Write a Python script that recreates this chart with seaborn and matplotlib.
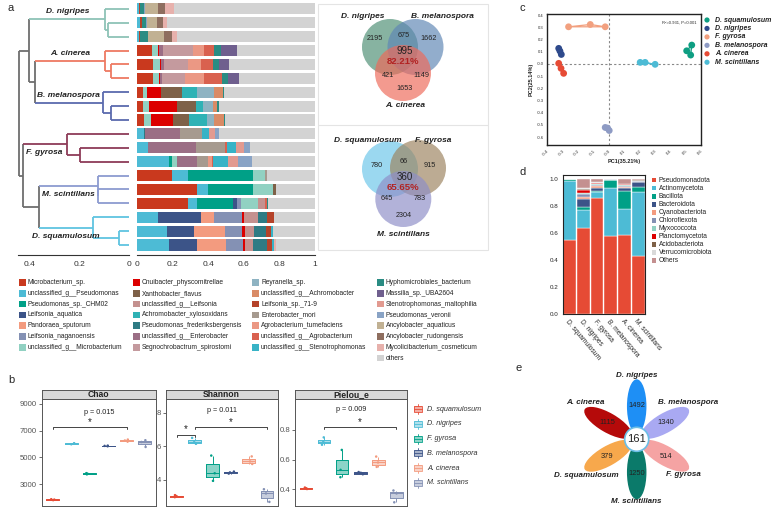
import numpy as np
import pandas as pd
import seaborn as sns
import matplotlib.pyplot as plt
from matplotlib.patches import Circle, Ellipse, Rectangle

# ---------------- panel a: species composition ----------------
taxa_a = ['Microbacterium_sp.', 'unclassified_g__Pseudomonas', 'Pseudomonas_sp._CHM02',
          'Leifsonia_aquatica', 'Pandoraea_sputorum', 'Leifsonia_naganoensis',
          'unclassified_g__Microbacterium', 'Cnuibacter_physcomitrellae', 'Xanthobacter_flavus',
          'unclassified_g__Leifsonia', 'Achromobacter_xylosoxidans', 'Pseudomonas_frederiksbergensis',
          'unclassified_g__Enterobacter', 'Segnochrobactrum_spirostomi', 'Reyranella_sp.',
          'unclassified_g__Achromobacter', 'Leifsonia_sp._71-9', 'Enterobacter_mori',
          'Agrobacterium_tumefaciens', 'unclassified_g__Agrobacterium', 'unclassified_g__Stenotrophomonas',
          'Hyphomicrobiales_bacterium', 'Massilia_sp._UBA2604', 'Stenotrophomonas_maltophilia',
          'Pseudomonas_veronii', 'Ancylobacter_aquaticus', 'Ancylobacter_rudongensis',
          'Mycolicibacterium_cosmeticum', 'others']
taxa_key = ['Mic', 'uPse', 'Pch', 'Laq', 'Pan', 'Lna', 'uMic', 'Cnu', 'Xan', 'uLei', 'Axy', 'Pfr',
            'uEnt', 'Seg', 'Rey', 'uAch', 'L71', 'Emo', 'Atu', 'uAgr', 'uSte', 'Hyp', 'Mas',
            'Sma', 'Pve', 'Aaq', 'Aru', 'Myc', 'oth']
taxa_colors = ['#C9391E', '#4DBBD5', '#00A087', '#3C5488', '#F39B7F', '#8491B4', '#91D1C2',
               '#DC0000', '#7E6148', '#C4918F', '#2FB2B5', '#2E7B84', '#9B6E85', '#C49A9E',
               '#8EB3C2', '#D98B66', '#B5432A', '#A69A8F', '#EB9884', '#D9614F', '#38B3C6',
               '#2A8C83', '#6F5F8E', '#E29A90', '#89A3C5', '#C1B193', '#8E6E5F', '#E7B1AC', '#D3D3D3']
legend_cols_a = [7, 7, 7, 8]

sample_groups = ['D. nigripes'] * 3 + ['A. cinerea'] * 3 + ['B. melanospora'] * 3 + \
                ['F. gyrosa'] * 3 + ['M. scintillans'] * 3 + ['D. squamulosum'] * 3

dn1 = {'uPse': .010, 'L71': .005, 'Hyp': .025, 'Pve': .005, 'Aaq': .070, 'Aru': .040, 'Myc': .050}
dn2 = {'uPse': .018, 'L71': .008, 'Hyp': .022, 'Pve': .008, 'Aaq': .055, 'Aru': .035, 'Myc': .020}
dn3 = {'uPse': .010, 'L71': .008, 'Hyp': .045, 'Aaq': .085, 'Aru': .047, 'Myc': .028}
ac1 = {'Mic': .080, 'uMic': .034, 'Cnu': .008, 'uEnt': .020, 'Seg': .170, 'Atu': .066, 'uAgr': .056, 'Hyp': .037, 'Mas': .088}
ac2 = {'Mic': .090, 'uMic': .037, 'Cnu': .008, 'uEnt': .015, 'Seg': .137, 'Atu': .071, 'uAgr': .066, 'Hyp': .037, 'Mas': .056}
ac3 = {'Mic': .086, 'uMic': .034, 'Cnu': .007, 'uEnt': .010, 'Seg': .130, 'Atu': .107, 'uAgr': .100, 'Hyp': .037, 'Mas': .062}
bm1 = {'Mic': .030, 'uMic': .026, 'Cnu': .077, 'Xan': .116, 'Axy': .088, 'Rey': .094, 'uAch': .049, 'Hyp': .009}
bm2 = {'Mic': .034, 'uMic': .032, 'Cnu': .160, 'Xan': .105, 'Axy': .041, 'Rey': .052, 'uAch': .026, 'Hyp': .008}
bm3 = {'Mic': .037, 'uMic': .039, 'Cnu': .126, 'Xan': .088, 'Axy': .100, 'Rey': .043, 'uAch': .054, 'Hyp': .008}
fg1 = {'uPse': .037, 'Pfr': .006, 'uEnt': .200, 'Emo': .122, 'uSte': .041, 'Sma': .034, 'Pve': .017}
fg2 = {'uPse': .058, 'uEnt': .274, 'Emo': .161, 'uAgr': .011, 'uSte': .053, 'Sma': .043, 'Pve': .032}
fg3 = {'uPse': .180, 'Pch': .013, 'uMic': .028, 'uEnt': .116, 'Emo': .062, 'Atu': .019, 'uAgr': .010,
       'uSte': .080, 'Sma': .056, 'Pve': .084}
ms1 = {'Mic': .193, 'uPse': .094, 'Pch': .366, 'uMic': .066, 'Emo': .009}
ms2 = {'Mic': .338, 'uPse': .062, 'Pch': .253, 'uMic': .113, 'Xan': .013}
ms3 = {'Mic': .287, 'uPse': .050, 'Pch': .203, 'Laq': .022, 'Lna': .019, 'uMic': .100, 'uLei': .037,
       'uAgr': .010, 'Hyp': .009}
ds1 = {'uPse': .114, 'Laq': .244, 'Pan': .075, 'Lna': .154, 'Cnu': .015, 'uLei': .075, 'Pfr': .051, 'L71': .043}
ds2 = {'uPse': .165, 'Laq': .154, 'Pan': .175, 'Lna': .094, 'Cnu': .019, 'uLei': .050, 'Pfr': .068,
       'L71': .026, 'uSte': .011}
ds3 = {'uPse': .178, 'Laq': .160, 'Pan': .161, 'Lna': .094, 'Cnu': .013, 'uLei': .047, 'Pfr': .075,
       'L71': .028, 'uSte': .015, 'Myc': .009}
samples_a = [dn1, dn2, dn3, ac1, ac2, ac3, bm1, bm2, bm3, fg1, fg2, fg3, ms1, ms2, ms3, ds1, ds2, ds3]

# dendrogram (linkage-style: new node ids start at 18)
merge_left = [1, 0, 4, 3, 7, 6, 21, 19, 10, 9, 13, 12, 16, 15, 29, 27, 25]
merge_right = [2, 18, 5, 20, 8, 22, 23, 24, 11, 26, 14, 28, 17, 30, 31, 32, 33]
merge_height = [0.084, 0.096, 0.072, 0.097, 0.073, 0.104, 0.379, 0.400, 0.197, 0.250,
                0.124, 0.127, 0.040, 0.147, 0.361, 0.427, 0.440]
dendro_colors = {'D. nigripes': '#8DC3B6', 'A. cinerea': '#EE7A62', 'B. melanospora': '#5A6AAE',
                 'F. gyrosa': '#8E3B58', 'M. scintillans': '#8C9BD0', 'D. squamulosum': '#5FC4E0'}

# venn diagrams
venn1_names = ['D. nigripes', 'B. melanospora', 'A. cinerea']
venn1_counts = [2195, 675, 1662, 421, 1149, 1653, 995]   # a, ab, b, ac, bc, c, abc
venn1_pct = '82.21%'
venn2_names = ['D. squamulosum', 'F. gyrosa', 'M. scintillans']
venn2_counts = [780, 66, 915, 645, 783, 2304, 360]
venn2_pct = '65.65%'

# ---------------- panel b: alpha diversity ----------------
alpha_groups = ['D. squamulosum', 'D. nigripes', 'F. gyrosa', 'B. melanospora', 'A. cinerea', 'M. scintillans']
alpha_colors = ['#E64B35', '#4DBBD5', '#00A087', '#3C5488', '#F39B7F', '#8491B4']
chao_vals = [1820, 1860, 1890, 5980, 6020, 6060, 3740, 3790, 3830,
             5830, 5860, 5880, 6180, 6260, 6330, 5780, 6150, 6280]
shannon_vals = [2.98, 3.05, 3.10, 6.15, 6.25, 6.50, 3.95, 4.40, 5.45,
                4.38, 4.45, 4.50, 4.95, 5.10, 5.40, 2.70, 3.20, 3.45]
pielou_vals = [0.400, 0.405, 0.410, 0.700, 0.720, 0.750, 0.480, 0.530, 0.665,
               0.500, 0.510, 0.515, 0.550, 0.580, 0.620, 0.310, 0.370, 0.390]
p_values = ['p = 0.015', 'p = 0.011', 'p = 0.009']

# ---------------- panel c: PCoA ----------------
pcoa_groups = ['D. squamulosum', 'D. nigripes', 'F. gyrosa', 'B. melanospora', 'A. cinerea', 'M. scintillans']
pcoa_colors = ['#0E9E82', '#2E4A8C', '#F2A07F', '#8E9BC4', '#E64B35', '#4DBBD5']
pc1_vals = [0.507, 0.540, 0.533, -0.324, -0.316, -0.307, -0.260, -0.119, -0.022,
            -0.022, -0.007, 0.004, -0.324, -0.309, -0.292, 0.205, 0.237, 0.302]
pc2_vals = [0.108, 0.155, 0.073, 0.128, 0.106, 0.078, 0.305, 0.324, 0.305,
            -0.521, -0.526, -0.546, 0.005, -0.036, -0.077, 0.013, 0.013, -0.003]

# ---------------- panel d: phylum composition ----------------
phyla = ['Pseudomonadota', 'Actinomycetota', 'Bacillota', 'Bacteroidota', 'Cyanobacteriota',
         'Chloroflexota', 'Myxococcota', 'Planctomycetota', 'Acidobacteriota', 'Verrucomicrobiota', 'Others']
phyla_colors = ['#E64B35', '#4DBBD5', '#00A087', '#3C5488', '#F39B7F', '#8491B4', '#91D1C2',
                '#DC0000', '#7E6148', '#D9D9D9', '#C49090']
phylum_groups = ['D. squamulosum', 'D. nigripes', 'F. gyrosa', 'B. melanospora', 'A. cinerea', 'M. scintillans']
ph_dsq = [0.548, 0.440, 0.010, 0.001, 0.000, 0.000, 0.000, 0.000, 0.000, 0.000, 0.001]
ph_dni = [0.635, 0.135, 0.025, 0.055, 0.020, 0.016, 0.014, 0.020, 0.005, 0.005, 0.070]
ph_fgy = [0.857, 0.050, 0.005, 0.025, 0.010, 0.010, 0.005, 0.008, 0.003, 0.002, 0.025]
ph_bme = [0.580, 0.356, 0.057, 0.002, 0.001, 0.001, 0.001, 0.000, 0.000, 0.000, 0.002]
ph_aci = [0.585, 0.193, 0.133, 0.019, 0.013, 0.007, 0.005, 0.008, 0.002, 0.000, 0.035]
ph_msc = [0.432, 0.474, 0.032, 0.037, 0.005, 0.005, 0.002, 0.002, 0.001, 0.000, 0.010]

# ---------------- panel e: flower ----------------
flower_names = ['D. nigripes', 'B. melanospora', 'F. gyrosa', 'M. scintillans', 'D. squamulosum', 'A. cinerea']
flower_counts = [1492, 1340, 514, 1250, 379, 1115]
flower_colors = ['#1E8FF5', '#A9A9F2', '#F5A3A3', '#0B7A6A', '#F7A84C', '#B50A0A']
flower_core = 161

# =====================================================================
sns.set_style('white')
plt.rcParams['font.family'] = ['Liberation Sans', 'DejaVu Sans']

W, H = 775, 509
fig = plt.figure(figsize=(W / 100, H / 100), dpi=100)
canvas = fig.add_axes([0, 0, 1, 1])
canvas.set_xlim(0, W)
canvas.set_ylim(H, 0)
canvas.axis('off')


def px_axes(x0, y0, x1, y1):
    return fig.add_axes([x0 / W, 1 - y1 / H, (x1 - x0) / W, (y1 - y0) / H])


for lab, (x, y) in zip('abcde', [(8, 8), (8, 380), (520, 8), (520, 172), (515, 368)]):
    canvas.text(x, y, lab, fontsize=8, va='center', ha='left')

# ---- dendrogram ----
axden = px_axes(18, 2, 129.3, 255)
n_leaf = len(sample_groups)
ypos = {i: float(i) for i in range(n_leaf)}
hgt = {i: 0.0 for i in range(n_leaf)}
members = {i: {sample_groups[i]} for i in range(n_leaf)}
parent = {}
for k, (l, r, h) in enumerate(zip(merge_left, merge_right, merge_height)):
    n = n_leaf + k
    ypos[n] = (ypos[l] + ypos[r]) / 2
    hgt[n] = h
    members[n] = members[l] | members[r]
    parent[l] = n
    parent[r] = n


def node_color(n):
    if len(members[n]) == 1:
        return dendro_colors[next(iter(members[n]))]
    return '#6E6E6E'


for k, (l, r, h) in enumerate(zip(merge_left, merge_right, merge_height)):
    n = n_leaf + k
    axden.plot([h, h], [ypos[l], ypos[r]], color=node_color(n), lw=1.3, clip_on=False,
               solid_capstyle='butt')
    for c in (l, r):
        axden.plot([hgt[c], h], [ypos[c], ypos[c]], color=node_color(c), lw=1.3, clip_on=False,
                   solid_capstyle='butt')

top_groups = ['D. nigripes', 'A. cinerea', 'B. melanospora']
for g in dendro_colors:
    node = [n for n in members if members[n] == {g} and n in parent and len(members[parent[n]]) > 1][0]
    xm = (hgt[node] + hgt[parent[node]]) / 2
    dy = -0.55 if g in top_groups else 0.62
    axden.text(xm, ypos[node] + dy, g, fontsize=6, fontweight='bold', fontstyle='italic',
               ha='center', va='center', color='#222222')

axden.set_xlim(0.445, 0)
axden.set_ylim(17.72, -0.5)
axden.set_xticks([0.4, 0.2, 0])
axden.set_xticklabels(['0.4', '0.2', '0'], fontsize=6)
axden.set_yticks([])
for s in ['top', 'left', 'right']:
    axden.spines[s].set_visible(False)
axden.spines['bottom'].set_color('#333333')
axden.spines['bottom'].set_linewidth(0.8)
axden.tick_params(axis='x', length=3, width=0.8, pad=1.5, colors='#333333')
axden.patch.set_alpha(0)

# ---- stacked bars (species) ----
axbar = px_axes(137.3, 2, 315, 255)
abund = np.zeros((len(samples_a), len(taxa_key)))
for i, s in enumerate(samples_a):
    for key, val in s.items():
        abund[i, taxa_key.index(key)] = val
    abund[i, -1] = 1 - abund[i, :-1].sum()
rows = np.arange(len(samples_a))
left = np.zeros(len(samples_a))
for j, col in enumerate(taxa_colors):
    axbar.barh(rows, abund[:, j], left=left, height=0.8, color=col, linewidth=0)
    left += abund[:, j]
axbar.set_xlim(0, 1)
axbar.set_ylim(17.72, -0.5)
axbar.set_xticks([0, 0.2, 0.4, 0.6, 0.8, 1])
axbar.set_xticklabels(['0', '0.2', '0.4', '0.6', '0.8', '1'], fontsize=6)
axbar.set_yticks([])
for s in ['top', 'left', 'right']:
    axbar.spines[s].set_visible(False)
axbar.spines['bottom'].set_color('#333333')
axbar.spines['bottom'].set_linewidth(0.8)
axbar.tick_params(axis='x', length=3, width=0.8, pad=1.5, colors='#333333')
axbar.patch.set_alpha(0)

# ---- legend a ----
col_x = [19, 133, 252, 377]
idx = 0
for c, ncount in enumerate(legend_cols_a):
    for r in range(ncount):
        y = 282.5 + r * 10.8
        canvas.add_patch(Rectangle((col_x[c], y - 3.3), 7, 6.6, facecolor=taxa_colors[idx], edgecolor='none'))
        canvas.text(col_x[c] + 9, y, taxa_a[idx], fontsize=4.8, va='center', ha='left', color='#222222')
        idx += 1

# ---- venn diagrams ----
canvas.add_patch(Rectangle((318, 4), 170, 246, facecolor='none', edgecolor='#E4E4E4', lw=0.8))
canvas.plot([318, 488], [124.5, 124.5], color='#E4E4E4', lw=0.8)


def draw_venn(centers, colors, names, name_pos, counts, count_pos, pct):
    for (x, y), col in zip(centers, colors):
        canvas.add_patch(Circle((x, y), 28, facecolor=col, alpha=0.68, edgecolor='none'))
    for (x, y), nm in zip(name_pos, names):
        canvas.text(x, y, nm, fontsize=6, fontweight='bold', fontstyle='italic',
                    ha='center', va='center', color='#222222')
    for (x, y), v in zip(count_pos, counts[:6]):
        canvas.text(x, y, str(v), fontsize=5.2, ha='center', va='center', color='#222222')
    cx, cy = count_pos[6]
    canvas.text(cx, cy, str(counts[6]), fontsize=7, ha='center', va='center', color='#222222')
    canvas.text(cx - 1.5, cy + 10.5, pct, fontsize=6.8, fontweight='bold', ha='center', va='center',
                color='#B22222')


draw_venn([(390, 47), (415.5, 47), (403, 73)], ['#4E8F75', '#5F86B5', '#EE6A5A'], venn1_names,
          [(363, 16.7), (442, 16.7), (405, 105)], venn1_counts,
          [(375, 38.3), (403.3, 35.7), (428.3, 38.3), (388.3, 75), (421.7, 75), (405, 88.3), (404.8, 51)],
          venn1_pct)
draw_venn([(390, 169), (418, 168), (403.3, 199)], ['#6CC6EA', '#9C8460', '#8E8EC8'], venn2_names,
          [(368, 140.7), (433.3, 140.7), (403.3, 234)], venn2_counts,
          [(376.7, 165.7), (403.3, 161.3), (430, 165.7), (386.7, 198.7), (420, 198.7), (403.3, 215.3),
           (404.8, 177.3)],
          venn2_pct)

# ---- panel b ----
alpha_df = pd.DataFrame({'group': np.repeat(alpha_groups, 3), 'Chao': chao_vals,
                         'Shannon': shannon_vals, 'Pielou_e': pielou_vals})
pal_b = dict(zip(alpha_groups, alpha_colors))
b_panels = [('Chao', 41.7, 156, (1384, 9350), [3000, 5000, 7000, 9000], ['3000', '5000', '7000', '9000'],
             [(0, 4, 7250, 160)], 8380),
            ('Shannon', 165.7, 277.7, (2.455, 8.81), [4, 6, 8], ['4', '6', '8'],
             [(0, 1, 6.7, 0.15), (1, 5, 7.16, 0.15)], 8.15),
            ('Pielou_e', 295, 407.3, (0.285, 1.01), [0.4, 0.6, 0.8], ['0.4', '0.6', '0.8'],
             [(1, 5, 0.82, 0.015)], 0.94)]
np.random.seed(3)
for (metric, x0, x1, ylim, yt, ytl, brackets, py), ptxt in zip(b_panels, p_values):
    ax = px_axes(x0, 399, x1, 506)
    sns.boxplot(data=alpha_df, x='group', y=metric, hue='group', order=alpha_groups, hue_order=alpha_groups,
                palette=pal_b, width=0.7, saturation=1, fill=True, linewidth=0, showcaps=False,
                showfliers=False, boxprops={'alpha': 0.45}, legend=False, ax=ax)
    sns.boxplot(data=alpha_df, x='group', y=metric, hue='group', order=alpha_groups, hue_order=alpha_groups,
                palette=pal_b, width=0.7, saturation=1, fill=False, linewidth=0.7, showcaps=False,
                showfliers=False, legend=False, ax=ax)
    sns.stripplot(data=alpha_df, x='group', y=metric, hue='group', order=alpha_groups, hue_order=alpha_groups,
                  palette=pal_b, size=1.8, jitter=0.2, legend=False, ax=ax)
    for g0, g1, yb, tick in brackets:
        ax.plot([g0, g0, g1, g1], [yb - tick, yb, yb, yb - tick], color='#444444', lw=0.7)
        ax.text((g0 + g1) / 2, yb, '*', fontsize=7, ha='center', va='bottom', color='#222222')
    ax.text(2.5, py, ptxt, fontsize=5.2, ha='center', va='center', color='#222222')
    ax.set_xlim(-0.6, 5.6)
    ax.set_ylim(*ylim)
    ax.set_xticks([])
    ax.set_yticks(yt)
    ax.set_yticklabels(ytl, fontsize=5.6, color='#333333')
    ax.set_xlabel('')
    ax.set_ylabel('')
    ax.tick_params(axis='y', length=2, width=0.6, colors='#555555', pad=1.5, left=True)
    for s in ax.spines.values():
        s.set_color('#555555')
        s.set_linewidth(0.7)
    strip = px_axes(x0, 390, x1, 399)
    strip.set_facecolor('#D9D9D9')
    strip.set_xticks([])
    strip.set_yticks([])
    for s in strip.spines.values():
        s.set_color('#555555')
        s.set_linewidth(0.7)
    strip.text(0.5, 0.45, metric, transform=strip.transAxes, fontsize=6.2, fontweight='bold',
               ha='center', va='center', color='#222222')

for i, (g, col) in enumerate(zip(alpha_groups, alpha_colors)):
    y = 409.3 + i * 14.68
    canvas.add_patch(Rectangle((413.5, y - 3), 8, 6, facecolor=col, alpha=0.45, edgecolor='none'))
    canvas.add_patch(Rectangle((413.5, y - 3), 8, 6, facecolor='none', edgecolor=col, lw=0.6))
    canvas.plot([413.5, 421.5], [y, y], color=col, lw=0.6)
    canvas.plot([417.5, 417.5], [y - 5, y - 3], color=col, lw=0.6)
    canvas.plot([417.5, 417.5], [y + 3, y + 5], color=col, lw=0.6)
    canvas.text(427, y, g, fontsize=5.2, fontstyle='italic', va='center', ha='left', color='#333333')

# ---- panel c ----
axc = px_axes(547, 14, 701, 145)
pcoa_df = pd.DataFrame({'PC1': pc1_vals, 'PC2': pc2_vals, 'group': np.repeat(pcoa_groups, 3)})
pal_c = dict(zip(pcoa_groups, pcoa_colors))
axc.axhline(0, color='#888888', lw=0.8, ls=(0, (2, 2)), zorder=1)
axc.axvline(0, color='#888888', lw=0.8, ls=(0, (2, 2)), zorder=1)
for g, sub in pcoa_df.groupby('group'):
    axc.fill(sub['PC1'], sub['PC2'], facecolor=pal_c[g], alpha=0.15, edgecolor='none', zorder=2)
    axc.fill(sub['PC1'], sub['PC2'], facecolor='none', edgecolor=pal_c[g], lw=0.9, zorder=2)
sns.scatterplot(data=pcoa_df, x='PC1', y='PC2', hue='group', palette=pal_c, s=24, edgecolor='none',
                legend=False, ax=axc, zorder=3)
axc.set_xlim(-0.4, 0.6)
axc.set_ylim(-0.665, 0.41)
xt = np.round(np.arange(-0.4, 0.61, 0.1), 1)
yt = np.round(np.arange(-0.6, 0.41, 0.1), 1)
axc.set_xticks(xt)
axc.set_xticklabels([f'{v:.1f}' for v in xt], fontsize=3, rotation=45, ha='right', rotation_mode='anchor')
axc.set_yticks(yt)
axc.set_yticklabels([f'{v:.1f}' for v in yt], fontsize=3)
axc.tick_params(length=1.5, width=0.6, pad=1)
axc.set_xlabel('PC1(35.21%)', fontsize=4, fontweight='bold', labelpad=2)
axc.set_ylabel('PC2(25.14%)', fontsize=4, fontweight='bold', labelpad=2)
for s in axc.spines.values():
    s.set_color('#222222')
    s.set_linewidth(1.0)
axc.text(0.97, 0.95, 'R²=0.931, P=0.001', transform=axc.transAxes, fontsize=3, ha='right', va='top')

for i, (g, col) in enumerate(zip(pcoa_groups, pcoa_colors)):
    y = 20 + i * 8.45
    canvas.add_patch(Circle((707, y), 2.6, facecolor=col, edgecolor='none'))
    canvas.text(715, y, g, fontsize=5, fontweight='bold', fontstyle='italic', va='center', ha='left',
                color='#222222')

# ---- panel d ----
axph = px_axes(562.7, 175, 645, 314)
phyla_mat = np.array([ph_dsq, ph_dni, ph_fgy, ph_bme, ph_aci, ph_msc])
bottom = np.zeros(len(phylum_groups))
xpos = np.arange(len(phylum_groups))
for j, col in enumerate(phyla_colors):
    axph.bar(xpos, phyla_mat[:, j], bottom=bottom, width=0.94, color=col, edgecolor='white', linewidth=0.3)
    bottom += phyla_mat[:, j]
axph.set_xlim(-0.5, 5.5)
axph.set_ylim(0, 1.03)
axph.set_yticks([0, 0.2, 0.4, 0.6, 0.8, 1.0])
axph.set_yticklabels(['0.0', '0.2', '0.4', '0.6', '0.8', '1.0'], fontsize=4.5)
axph.set_xticks(xpos)
axph.set_xticklabels(phylum_groups, fontsize=4.8, rotation=-50, ha='left', va='top', rotation_mode='anchor')
axph.tick_params(length=1.5, width=0.6, pad=1.5)
for s in axph.spines.values():
    s.set_color('#222222')
    s.set_linewidth(0.8)

for i, (p, col) in enumerate(zip(phyla, phyla_colors)):
    y = 180 + i * 8.07
    canvas.add_patch(Rectangle((651.5, y - 2.4), 4.8, 4.8, facecolor=col, edgecolor='none'))
    canvas.text(658.5, y, p, fontsize=4.8, va='center', ha='left', color='#222222')

# ---- panel e: flower ----
fcx, fcy = 636.7, 439.3
petal_angles = [90, 30, -30, -90, 210, 150]
label_angles = [90, 36, -37, -90, 216, 144]
label_dist = [63.5, 63, 59, 62, 62, 63]
for ang, col in zip(petal_angles, flower_colors):
    t = np.deg2rad(ang)
    canvas.add_patch(Ellipse((fcx + 33 * np.cos(t), fcy - 33 * np.sin(t)), 54, 19.5, angle=-ang,
                             facecolor=col, edgecolor='none'))
for ang, v in zip(petal_angles, flower_counts):
    t = np.deg2rad(ang)
    canvas.text(fcx + 34 * np.cos(t), fcy - 34 * np.sin(t), str(v), fontsize=5.4, ha='center', va='center',
                color='#222222')
for ang, d, nm in zip(label_angles, label_dist, flower_names):
    t = np.deg2rad(ang)
    canvas.text(fcx + d * np.cos(t), fcy - d * np.sin(t), nm, fontsize=5.8, fontweight='bold',
                fontstyle='italic', ha='center', va='center', color='#222222')
canvas.add_patch(Circle((fcx, fcy), 12, facecolor='white', edgecolor='#6BBEE6', lw=1.2))
canvas.text(fcx, fcy, str(flower_core), fontsize=8, ha='center', va='center', color='#222222')

fig.savefig('out.png', dpi=100)
